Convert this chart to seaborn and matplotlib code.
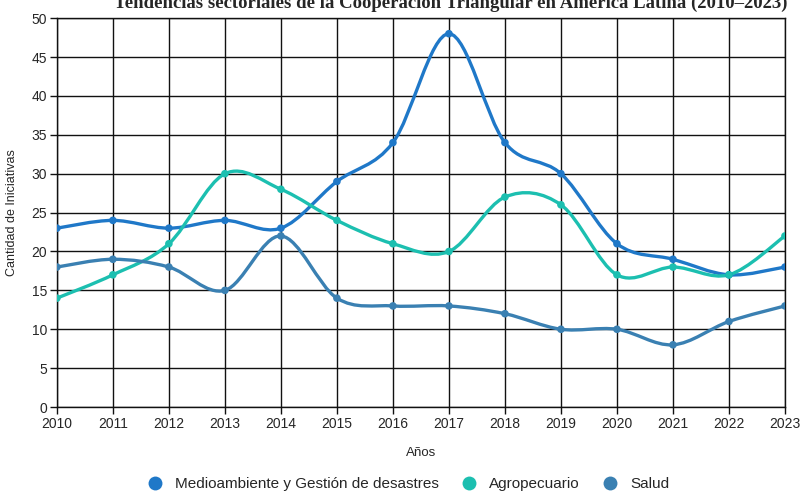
import numpy as np
import pandas as pd
import matplotlib
matplotlib.use("Agg")
import matplotlib.pyplot as plt
from matplotlib.path import Path
from matplotlib.patches import PathPatch
from matplotlib.lines import Line2D
import seaborn as sns

# Data
years = list(range(2010, 2024))
medioambiente = [23, 24, 23, 24, 23, 29, 34, 48, 34, 30, 21, 19, 17, 18]
agropecuario = [14, 17, 21, 30, 28, 24, 21, 20, 27, 26, 17, 18, 17, 22]
salud = [18, 19, 18, 15, 22, 14, 13, 13, 12, 10, 10, 8, 11, 13]

series_names = ["Medioambiente y Gestión de desastres", "Agropecuario", "Salud"]
colors = ["#1f78c8", "#1cbfb0", "#3a80b2"]

df = pd.DataFrame({
    "Año": years * 3,
    "Valor": medioambiente + agropecuario + salud,
    "Serie": sum([[n] * len(years) for n in series_names], []),
})


def smooth_path(x, y):
    """Catmull-Rom curve through the points, as cubic Bezier segments."""
    pts = np.column_stack([x, y]).astype(float)
    ext = np.vstack([pts[0], pts, pts[-1]])
    verts = [pts[0]]
    codes = [Path.MOVETO]
    for i in range(1, len(ext) - 2):
        p0, p1, p2, p3 = ext[i - 1], ext[i], ext[i + 1], ext[i + 2]
        c1 = p1 + (p2 - p0) / 6
        c2 = p2 - (p3 - p1) / 6
        verts += [c1, c2, p2]
        codes += [Path.CURVE4] * 3
    return Path(verts, codes)


sns.set_style("white")
plt.rcParams["font.family"] = ["Liberation Sans", "DejaVu Sans"]

fig = plt.figure(figsize=(8.01, 4.91), dpi=100)
ax = fig.add_axes([0.071, 0.171, 0.909, 0.792])

for name, color in zip(series_names, colors):
    sub = df[df["Serie"] == name]
    ax.add_patch(PathPatch(smooth_path(sub["Año"], sub["Valor"]),
                           facecolor="none", edgecolor=color, lw=2.4,
                           capstyle="round", joinstyle="round", zorder=3))

sns.scatterplot(data=df, x="Año", y="Valor", hue="Serie",
                palette=colors, s=30, edgecolor="none", legend=False,
                ax=ax, zorder=4)

ax.set_xlim(2010, 2023)
ax.set_ylim(0, 50)
ax.set_xticks(years)
ax.set_yticks(range(0, 51, 5))
ax.grid(True, color="#111111", lw=1.0)
ax.set_axisbelow(True)
for s in ax.spines.values():
    s.set_color("#111111")
    s.set_linewidth(1.0)
ax.tick_params(axis="both", length=5, width=1, color="#111111",
               labelsize=10, pad=2, bottom=True, left=True)
ax.set_xlabel("Años", fontsize=9.5, labelpad=12)
ax.set_ylabel("Cantidad de Iniciativas", fontsize=9, labelpad=10)

# title sits at the very top edge, as in the source image
fig.text(0.563, 0.994, "Tendencias sectoriales de la Cooperación Triangular en América Latina (2010–2023)",
         ha="center", va="center", fontsize=13.5, fontweight="bold",
         family=["Liberation Serif", "DejaVu Serif"])

handles = [Line2D([], [], marker="o", linestyle="none", markersize=10,
                  markerfacecolor=c, markeredgecolor="none") for c in colors]
fig.legend(handles, series_names, loc="center", bbox_to_anchor=(0.505, 0.014),
           ncol=3, frameon=False, fontsize=11, handletextpad=0.3,
           columnspacing=1.0, borderaxespad=0)

fig.savefig("out.png", dpi=100)
